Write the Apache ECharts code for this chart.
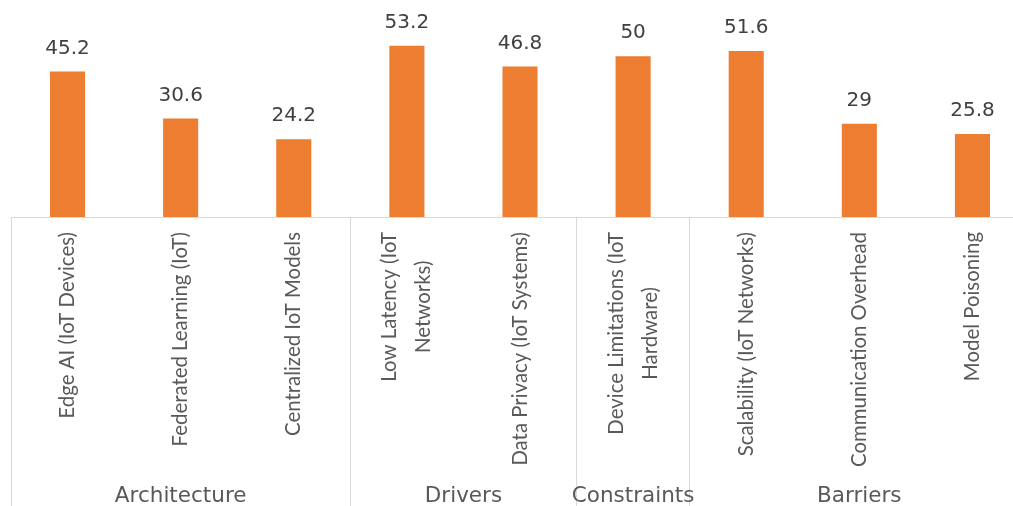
<!DOCTYPE html>
<html>
<head>
<meta charset="utf-8">
<script src="https://cdn.jsdelivr.net/npm/echarts@6/dist/echarts.min.js"></script>
<style>
html,body{margin:0;padding:0;background:#fff;}
#chart{width:1013px;height:506px;}
</style>
</head>
<body>
<div id="chart"></div>
<script>
const categories = [
  'Edge AI (IoT Devices)',
  'Federated Learning (IoT)',
  'Centralized IoT Models',
  'Low Latency (IoT\nNetworks)',
  'Data Privacy (IoT Systems)',
  'Device Limitations (IoT\nHardware)',
  'Scalability (IoT Networks)',
  'Communication Overhead',
  'Model Poisoning'
];
const values = [45.2, 30.6, 24.2, 53.2, 46.8, 50, 51.6, 29, 25.8];
const groupNames = ['Architecture', 'Drivers', 'Constraints', 'Barriers'];
const groupSizes = [3, 2, 1, 3];

// derive group boundaries and centers (in category units)
const bounds = [0];
const centers = [];
let acc = 0;
groupSizes.forEach(s => { centers.push(acc + s / 2); acc += s; bounds.push(acc); });
const centerName = {};
centers.forEach((c, i) => { centerName[c] = groupNames[i]; });

const CAT_FONT = 'Lato';
const CAT_SIZE = 20.4;
const ctx = document.createElement('canvas').getContext('2d');
ctx.font = CAT_SIZE + 'px ' + CAT_FONT;
const textW = s => ctx.measureText(s).width;

// center wrapped lines: pad shorter lines so they sit centred under the longest
const rich = {};
const catLabels = categories.map((c, ci) => {
  const lines = c.split('\n');
  const maxW = Math.max.apply(null, lines.map(textW));
  return lines.map((l, li) => {
    const key = 'l' + ci + '_' + li;
    const p = (maxW - textW(l)) / 2;
    rich[key] = {
      fontFamily: CAT_FONT, fontSize: CAT_SIZE, color: '#595959', lineHeight: 34,
      padding: [0, p, 0, p]
    };
    return '{' + key + '|' + l + '}';
  }).join('\n');
});
const labelMap = {};
categories.forEach((c, i) => { labelMap[c] = catLabels[i]; });

const chart = echarts.init(document.getElementById('chart'));
chart.setOption({
  animation: false,
  grid: { left: 11, width: 1018, top: 24, height: 193, containLabel: false, outerBoundsMode: 'none' },
  xAxis: [
    {
      type: 'category',
      data: categories,
      axisLine: { show: true, lineStyle: { color: '#d9d9d9', width: 1 } },
      axisTick: { show: false },
      axisLabel: {
        interval: 0,
        rotate: 90,
        margin: 15,
        fontFamily: CAT_FONT,
        fontSize: CAT_SIZE,
        color: '#595959',
        formatter: v => labelMap[v],
        rich: rich
      }
    },
    {
      type: 'value',
      position: 'bottom',
      min: 0,
      max: groupSizes.reduce((a, b) => a + b, 0),
      axisLine: { show: false },
      splitLine: { show: false },
      axisTick: {
        show: true,
        customValues: bounds,
        length: 300,
        lineStyle: { color: '#d9d9d9', width: 1 }
      },
      axisLabel: {
        customValues: centers,
        formatter: v => centerName[v] || '',
        margin: 268,
        fontFamily: 'DejaVu Sans',
        fontSize: 21.5,
        color: '#595959'
      }
    }
  ],
  yAxis: {
    type: 'value',
    min: 0,
    max: 60,
    show: false,
    splitLine: { show: false }
  },
  series: [{
    type: 'bar',
    data: values,
    xAxisIndex: 0,
    barWidth: '31%',
    itemStyle: { color: '#ED7D31' },
    label: {
      show: true,
      position: 'top',
      distance: 13,
      fontFamily: 'DejaVu Sans',
      fontSize: 20,
      color: '#404040'
    }
  }]
});
</script>
</body>
</html>
